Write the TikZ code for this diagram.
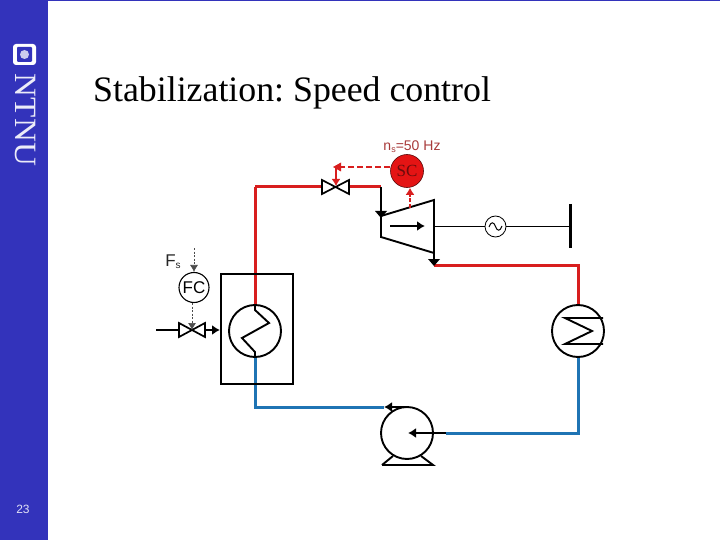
\documentclass[tikz,border=0pt]{standalone}
\usepackage{fontspec}
\setmainfont{Liberation Serif}
\newfontfamily\lsans{Liberation Sans}
\usetikzlibrary{arrows.meta}
\frenchspacing
\definecolor{sidebar}{HTML}{3333BB}
\definecolor{steam}{HTML}{D81E1E}
\definecolor{water}{HTML}{1F74B4}
\definecolor{scred}{HTML}{E41414}
\definecolor{sctext}{HTML}{6A0C0C}
\definecolor{nslabel}{HTML}{A83A3A}
\tikzset{
  x=1pt,y=-1pt,
  redpipe/.style={draw=steam,line width=3pt},
  bluepipe/.style={draw=water,line width=3pt},
  blk/.style={draw=black,line width=1.9pt},
  thinblk/.style={draw=black,line width=1pt},
  tipped/.style={-{Latex[length=8pt,width=10pt]}},
  sig/.style={draw=black!70,line width=0.7pt,dash pattern=on 2pt off 1.5pt},
  redsig/.style={draw=steam,line width=2.6pt,dash pattern=on 6pt off 3pt},
  vessel/.style={circle,draw=black,line width=1.9pt,inner sep=0pt,minimum size=52pt,fill=white},
  valveshape/.style={draw=black,line width=1.7pt,fill=white,line join=miter}
}
\begin{document}
\begin{tikzpicture}
\useasboundingbox (0,0) rectangle (720,540);
\fill[white] (0,0) rectangle (720,540);
\fill[sidebar] (0,0) rectangle (48,540);
\draw[sidebar,line width=1pt] (48,0.5) -- (720,0.5);
% logo
\fill[white,rounded corners=3pt] (13,44) rectangle (36,65);
\fill[sidebar,rounded corners=1pt] (17,47) rectangle (32,62);
\fill[white!75!sidebar] (24.5,54.5) circle (4.5);
\node[text=white!90!sidebar,rotate=-90,font=\fontsize{31}{31}\selectfont,inner sep=0pt,xscale=1.07] (ntnu) at (25,120) {NTNU};
\node[text=white!85!sidebar,font=\lsans\fontsize{12}{12}\selectfont,inner sep=0pt] (pg) at (23,509) {23};
\node[anchor=base west,inner sep=0pt,font=\fontsize{35.8}{36}\selectfont] (title) at (93,102) {Stabilization: Speed control};
% coordinates
\coordinate (p1) at (255,187);
\coordinate (v1l) at (322,187);
\coordinate (v1r) at (349,187);
\coordinate (tin) at (381,187);
\coordinate (tl1) at (381,216);
\coordinate (tl2) at (381,237);
\coordinate (tr1) at (434,200);
\coordinate (tr2) at (434,253);
\coordinate (tout) at (434,265);
\coordinate (c1) at (578,265);
\coordinate (c3) at (578,433);
\coordinate (pin) at (446,433);
\coordinate (pout) at (384,407);
\coordinate (pt) at (408,407);
\coordinate (b1) at (255,407);
% pipes
\node[vessel] (cond) at (578,331) {};
\node[vessel] (pump) at (407,433) {};
\node[vessel,fill=none] (boil) at (255,331) {};
\draw[redpipe] (p1) -- (v1l);
\draw[redpipe] (v1r) -- (tin);
\draw[redpipe,line join=miter] (boil.north) -- (p1);
\draw[redpipe,line join=miter] (tout) -- (c1) -- (cond.north);
\draw[bluepipe,line join=miter] (cond.south) -- (c3) -- (pin);
\draw[bluepipe,line join=miter] (pout) -- (b1) -- (boil.south);
% boiler
\node[draw=black,line width=1.9pt,minimum width=72pt,minimum height=110pt,inner sep=0pt] (box) at (257,329) {};
\draw[blk] (boil.north) -- (255,310) -- (269,323) -- (242,338) -- (255,352) -- (boil.south);
% condenser
\draw[blk] (603,318) -- (565,318) -- (592,331) -- (565,344) -- (603,344);
% turbine
\draw[blk,fill=white] (tl1) -- (tr1) -- (tr2) -- (tl2) -- cycle;
\draw[blk] (tin) -- (tl2);
\fill (375,211) -- (387,211) -- (381,218) -- cycle;
\draw[blk,tipped] (390,226) -- (425,226);
\draw[blk] (tr2) -- (tout);
\fill (428,259) -- (440,259) -- (434,266) -- cycle;
% generator
\node[circle,draw=black,line width=0.8pt,fill=white,minimum size=21pt,inner sep=0pt] (gen) at (495.5,226.5) {};
\draw[thinblk] (tr1 |- gen) -- (gen);
\coordinate (bus) at (570,226.5);
\draw[draw=black,line width=1.3pt] (gen) -- (bus);
\draw[line width=3pt] (570,204) -- (570,248);
\draw[line width=1pt] (489,227) .. controls (491,221) and (494,222) .. (495.5,226.5) .. controls (497,231) and (500,232) .. (502,226);
% valve 1
\draw[valveshape] (322,180) -- (349,194) -- (349,180) -- (322,194) -- cycle;
% SC
\node[circle,draw=black!60!scred,line width=0.6pt,fill=scred,minimum size=33pt,inner sep=0pt,text=sctext,font=\fontsize{17}{17}\selectfont] (sc) at (407,171) {\raisebox{-1.5pt}{SC}};
\node[text=nslabel,font=\lsans\fontsize{14}{14}\selectfont,inner sep=0pt] (ns) at (412,147) {n\raisebox{-2pt}{\fontsize{9}{9}\selectfont s}=50 Hz};
\coordinate (vtop) at (336,167);
\coordinate (vhead) at (336,186);
\draw[redsig] (sc.west |- vtop) -- (vtop);
\draw[draw=steam,line width=2.6pt,-{Latex[length=7pt,width=9pt]}] (vtop) -- (vhead);
\fill[steam] (333,167) -- (341,162.5) -- (341,171.5) -- cycle;
\coordinate (tsens) at (410,208);
\draw[draw=steam,line width=2.4pt,dash pattern=on 4pt off 1.5pt,-{Latex[length=7pt,width=9pt]}] (tsens) -- (sc.south -| tsens);
% pump
\draw[blk] (382,465) -- (433,465) -- (421,456);
\draw[blk] (382,465) -- (393,456);
\draw[blk,tipped] (pin) -- (408,433);
\draw[blk,tipped] (pt) -- (pout);
% fuel
\coordinate (f0) at (156,330);
\coordinate (fl) at (179,330);
\coordinate (fr) at (205,330);
\coordinate (fend) at (220,330);
\draw[line width=2.4pt] (f0) -- (fl);
\draw[blk,tipped] (fr) -- (fend);
\draw[valveshape] (179,323) -- (205,337) -- (205,323) -- (179,337) -- cycle;
\node[circle,draw=black,line width=1.1pt,fill=white,minimum size=30pt,inner sep=0pt,font=\lsans\fontsize{17}{17}\selectfont] (fc) at (194,287.5) {FC};
\node[font=\lsans\fontsize{17}{17}\selectfont,inner sep=0pt,text=black!85] (fs) at (173,262) {F\raisebox{-2pt}{\fontsize{10}{10}\selectfont s}};
\coordinate (fs0) at (194,248);
\coordinate (fcv) at (192,330);
\draw[sig,-{Latex[length=7pt,width=8pt]}] (fs0) -- (fc.north);
\draw[sig,-{Latex[length=7pt,width=8pt]}] (fc.south -| fcv) -- (fcv);
\end{tikzpicture}
\end{document}
